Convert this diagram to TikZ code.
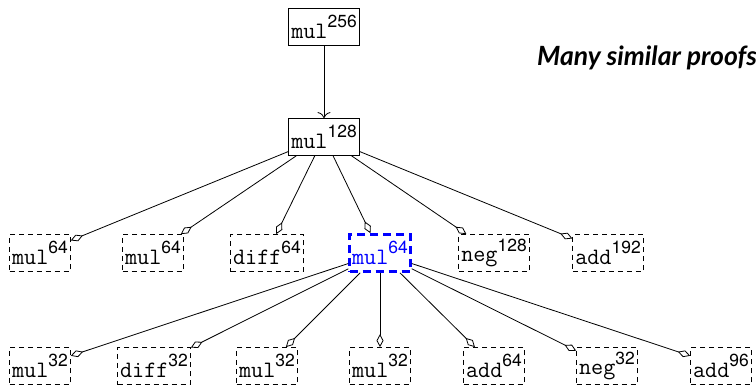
\documentclass[tikz,border=0pt]{standalone}
\usepackage{fontspec}
\newfontfamily\titlefont{Lato}
\newfontfamily\supfont{TeX Gyre Heros}
\usetikzlibrary{arrows.meta}

% operator name with its size as a superscript
\newcommand{\op}[2]{\texttt{#1}\raisebox{0.46em}{\supfont\fontsize{17.5}{17.5}\selectfont #2}}

\tikzset{
  opbox/.style={rectangle, inner xsep=2.5pt, inner ysep=0pt, minimum height=37pt,
    font=\fontsize{23.5}{26}\selectfont},
  solidbox/.style={opbox, draw, line width=0.8pt},
  dashbox/.style={opbox, draw, line width=0.8pt, dash pattern=on 5pt off 4pt},
  focusbox/.style={opbox, draw=blue, text=blue, line width=2.6pt, dash pattern=on 8pt off 5pt},
  link/.style={line width=0.8pt, -{Diamond[open,length=13pt,width=7pt,line width=0.8pt]}},
  call/.style={line width=0.8pt, -{Computer Modern Rightarrow[length=6pt,width=13pt,line width=0.8pt]}},
}

\begin{document}
\begin{tikzpicture}[x=1pt,y=-1pt]
  \useasboundingbox (0,0) rectangle (756,386);

  % heading
  \node[anchor=base west, inner sep=0pt, font=\titlefont\bfseries\itshape\fontsize{26.5}{30}\selectfont]
    (title) at (537,65) {Many similar proofs};

  % root and its child
  \node[solidbox] (root) at (324,27) {\op{mul}{256}};
  \node[solidbox] (mid) at (324,137) {\op{mul}{128}};
  \draw[call] (root) -- (mid);

  % second level
  \node[dashbox]  (a1) at (40,253)  {\op{mul}{64}};
  \node[dashbox]  (a2) at (153,253) {\op{mul}{64}};
  \node[dashbox]  (a3) at (267,253) {\op{diff}{64}};
  \node[focusbox] (a4) at (380,253) {\op{mul}{64}};
  \node[dashbox]  (a5) at (494,253) {\op{neg}{128}};
  \node[dashbox]  (a6) at (608,253) {\op{add}{192}};

  \foreach \t in {a1,a2,a3,a4,a5,a6}
    \draw[link] (mid) -- (\t);

  % third level
  \node[dashbox] (b1) at (40,366)  {\op{mul}{32}};
  \node[dashbox] (b2) at (154,366) {\op{diff}{32}};
  \node[dashbox] (b3) at (267,366) {\op{mul}{32}};
  \node[dashbox] (b4) at (380,366) {\op{mul}{32}};
  \node[dashbox] (b5) at (494,366) {\op{add}{64}};
  \node[dashbox] (b6) at (607,366) {\op{neg}{32}};
  \node[dashbox] (b7) at (721,366) {\op{add}{96}};

  \foreach \t in {b1,b2,b3,b4,b5,b6,b7}
    \draw[link] (a4) -- (\t);
\end{tikzpicture}
\end{document}
